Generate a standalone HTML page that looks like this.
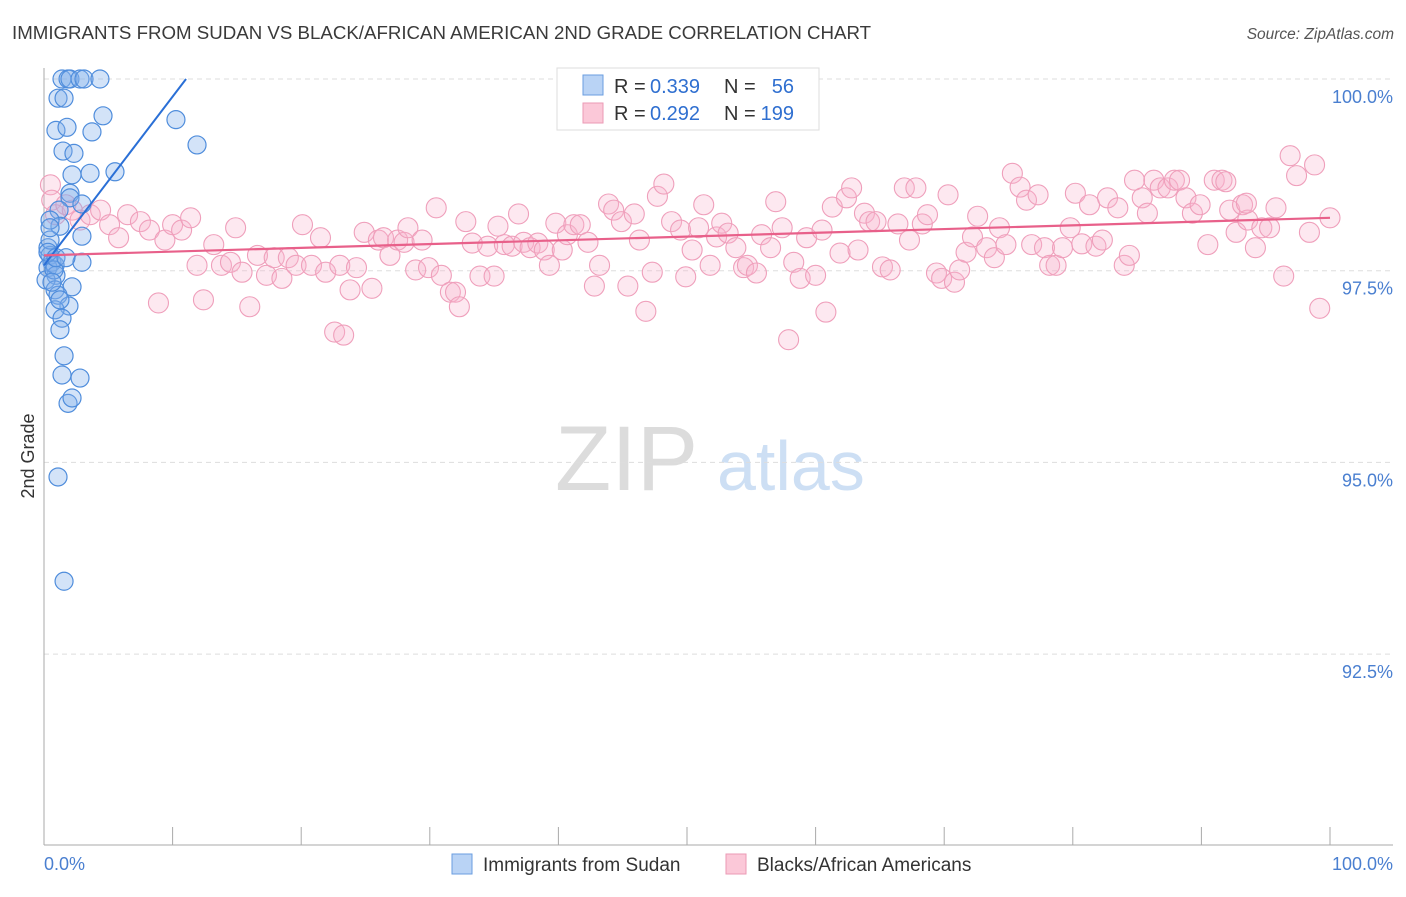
<!DOCTYPE html>
<html><head><meta charset="utf-8"><style>
body{margin:0;background:#fff;font-family:"Liberation Sans",sans-serif}
svg text{font-family:"Liberation Sans",sans-serif}
</style></head><body>
<svg id="chart" width="1406" height="892" xmlns="http://www.w3.org/2000/svg">
<text x="12" y="39" font-size="18.7" fill="#3a3a3a">IMMIGRANTS FROM SUDAN VS BLACK/AFRICAN AMERICAN 2ND GRADE CORRELATION CHART</text>
<text x="1394" y="39" font-size="15.5" fill="#555" font-style="italic" text-anchor="end">Source: ZipAtlas.com</text>
<g>
<text x="555" y="490" font-size="92" fill="#dcdcdc" font-family="Liberation Serif, serif">ZIP</text>
<text x="717" y="490" font-size="70" fill="#cddff4">atlas</text>
</g>
<g id="grid"></g>
<g id="axes"></g>
<g id="pink"></g>
<g id="blue"></g>
<g id="lines"></g>
<g font-size="20">
<rect x="557" y="68" width="262" height="62" fill="#fff" stroke="#ddd"/>
<rect x="583" y="75" width="20" height="20" fill="#b9d3f5" stroke="#6a9ee0"/>
<rect x="583" y="103" width="20" height="20" fill="#fbc8d8" stroke="#eb9ab5"/>
<text x="614" y="93" fill="#333">R =</text><text x="650" y="93" fill="#2f6fd0">0.339</text>
<text x="724" y="93" fill="#333">N =</text><text x="794" y="93" fill="#2f6fd0" text-anchor="end">56</text>
<text x="614" y="120" fill="#333">R =</text><text x="650" y="120" fill="#2f6fd0">0.292</text>
<text x="724" y="120" fill="#333">N =</text><text x="794" y="120" fill="#2f6fd0" text-anchor="end">199</text>
</g>
<text transform="translate(34,456) rotate(-90)" font-size="18" fill="#333" text-anchor="middle">2nd Grade</text>
<g>
<rect x="452" y="854" width="20" height="20" fill="#b9d3f5" stroke="#6a9ee0"/>
<text x="483" y="871" font-size="19" fill="#333">Immigrants from Sudan</text>
<rect x="726" y="854" width="20" height="20" fill="#fbc8d8" stroke="#eb9ab5"/>
<text x="757" y="871" font-size="19" fill="#333">Blacks/African Americans</text>
</g>
</svg>
<script>
const yTicks=[100,97.5,95,92.5];
const yTickLabels=["100.0%","97.5%","95.0%","92.5%"];
const xTickCount=[0,10,20,30,40,50,60,70,80,90,100];
const blueX=[1.40,1.87,2.02,2.80,3.11,4.35,1.09,1.56,4.59,0.93,1.79,3.73,1.48,2.33,2.18,3.58,5.52,10.26,11.90,2.02,2.02,1.17,2.95,1.24,0.47,2.95,2.95,0.31,0.47,0.62,0.31,0.86,0.93,0.16,0.86,2.18,1.09,1.94,0.86,1.40,1.24,1.56,1.40,2.80,1.87,2.18,1.09,1.56,0.47,0.31,0.78,0.62,1.24,0.93,1.71,0.47];
const blueY=[100,100,100,100,100,100,99.75,99.75,99.52,99.33,99.37,99.31,99.06,99.03,98.75,98.77,98.79,99.47,99.14,98.51,98.45,98.29,98.37,98.08,98.16,97.95,97.61,97.80,97.70,97.61,97.54,97.57,97.44,97.38,97.25,97.29,97.18,97.04,96.99,96.88,96.73,96.39,96.14,96.10,95.77,95.84,94.81,93.45,97.90,97.74,97.51,97.35,97.12,97.67,97.67,98.06];
const pinkX=[0.5,0.6,0.9,1.7,2.2,2.8,3.6,4.4,5.1,5.8,6.5,7.5,8.2,8.9,9.4,10.0,10.7,11.4,11.9,12.4,13.2,13.8,14.5,14.9,15.4,16.0,16.6,17.3,17.9,18.5,19.0,19.6,20.1,20.8,21.5,21.9,22.6,23.0,23.3,23.8,24.3,24.9,25.5,26.0,26.4,26.9,27.5,28.0,28.3,28.9,29.4,29.9,30.5,30.9,31.6,32.0,32.3,32.8,33.3,33.9,34.5,35.0,35.3,35.8,36.4,36.9,37.3,37.8,38.4,38.9,39.3,39.8,40.3,40.7,41.2,41.7,42.3,42.8,43.2,43.9,44.3,44.9,45.4,45.9,46.3,46.8,47.3,47.7,48.2,48.8,49.5,49.9,50.4,50.9,51.3,51.8,52.3,52.7,53.2,53.8,54.4,54.7,55.4,55.8,56.5,56.9,57.4,57.9,58.3,58.8,59.3,60.0,60.5,60.8,61.3,61.9,62.4,62.8,63.3,63.8,64.2,64.7,65.2,65.8,66.4,66.9,67.3,67.8,68.3,68.7,69.4,69.8,70.3,70.8,71.2,71.7,72.2,72.6,73.3,73.9,74.3,74.8,75.3,75.9,76.4,76.8,77.3,77.8,78.2,78.7,79.2,79.8,80.2,80.7,81.3,81.8,82.3,82.7,83.5,84.0,84.4,84.8,85.4,85.8,86.3,86.8,87.4,87.9,88.3,88.8,89.3,89.9,90.5,91.0,91.6,92.2,92.7,93.2,93.6,94.2,94.7,95.3,95.8,96.4,96.9,97.4,98.4,98.8,99.2,100,91.9,93.5];
const pinkY=[98.62,98.42,98.23,98.36,98.29,98.16,98.23,98.29,98.10,97.93,98.23,98.14,98.03,97.08,97.90,98.10,98.03,98.19,97.57,97.12,97.84,97.57,97.61,98.06,97.48,97.03,97.70,97.44,97.67,97.40,97.67,97.57,98.10,97.57,97.93,97.48,96.70,97.57,96.66,97.25,97.54,98.00,97.27,97.90,97.93,97.70,97.90,97.87,98.06,97.51,97.90,97.54,98.32,97.44,97.22,97.22,97.03,98.14,97.86,97.43,97.82,97.43,98.08,97.84,97.82,98.24,97.87,97.80,97.86,97.77,97.57,98.12,97.77,97.97,98.10,98.10,97.87,97.30,97.57,98.37,98.29,98.14,97.30,98.24,97.90,96.97,97.48,98.47,98.63,98.14,98.03,97.42,97.77,98.06,98.36,97.57,97.94,98.12,97.99,97.80,97.54,97.57,97.47,97.97,97.80,98.40,98.06,96.60,97.61,97.40,97.93,97.44,98.03,96.96,98.33,97.73,98.45,98.58,97.77,98.25,98.14,98.14,97.55,97.51,98.11,98.58,97.90,98.58,98.11,98.23,97.47,97.40,98.49,97.35,97.51,97.74,97.94,98.21,97.80,97.67,98.06,97.84,98.77,98.59,98.42,97.84,98.49,97.80,97.57,97.57,97.80,98.06,98.51,97.85,98.36,97.82,97.90,98.45,98.32,97.57,97.70,98.68,98.45,98.25,98.68,98.58,98.58,98.68,98.68,98.45,98.25,98.36,97.84,98.68,98.68,98.29,98.00,98.36,98.16,97.80,98.06,98.06,98.32,97.43,99.00,98.74,98.00,98.88,97.01,98.19,98.66,98.38];
const blueTrend=[97.57,0.22];
const pinkTrend=[97.70,0.0049];
const NS="http://www.w3.org/2000/svg";
const X=v=>44+v*12.86, Y=v=>79+(100-v)*76.68;
function mk(tag,attrs,parent){const e=document.createElementNS(NS,tag);for(const k in attrs)e.setAttribute(k,attrs[k]);document.getElementById(parent).appendChild(e);return e;}
yTicks.forEach((t,i)=>{
 const g=mk('line',{x1:44,x2:1393,y1:Y(t),y2:Y(t),stroke:'#ddd','stroke-dasharray':'5,4'},'grid');
 
 
 const l=mk('text',{x:1393,y:Y(t)+24,'font-size':18,fill:'#4a7fd0','text-anchor':'end'},'axes');
 l.textContent=yTickLabels[i];
 
 
});
mk('line',{x1:44,x2:44,y1:68,y2:845,stroke:'#aaa'},'axes');
mk('line',{x1:44,x2:1393,y1:845,y2:845,stroke:'#aaa'},'axes');
xTickCount.forEach(t=>{const e=mk('line',{x1:X(t),x2:X(t),y1:827,y2:845,stroke:'#aaa'},'axes');
 
 });
let a=mk('text',{x:44,y:870,'font-size':18,fill:'#4a7fd0'},'axes');a.textContent='0.0%';


a=mk('text',{x:1393,y:870,'font-size':18,fill:'#4a7fd0','text-anchor':'end'},'axes');a.textContent='100.0%';


pinkX.forEach((v,i)=>{const c=mk('circle',{cx:X(v),cy:Y(pinkY[i]),r:10,fill:'rgba(248,180,204,0.3)',stroke:'#ef9fbb','stroke-width':1.1},'pink');
 
 });
blueX.forEach((v,i)=>{const c=mk('circle',{cx:X(v),cy:Y(blueY[i]),r:9,fill:'rgba(130,175,235,0.35)',stroke:'#4f8ddc','stroke-width':1.2},'blue');
 
 });
const bx1=(100-blueTrend[0])/blueTrend[1];
let ln=mk('line',{x1:X(0),y1:Y(blueTrend[0]),x2:X(bx1),y2:Y(100),stroke:'#2a6fd6','stroke-width':2},'lines');


ln=mk('line',{x1:X(0),y1:Y(pinkTrend[0]),x2:X(100),y2:Y(pinkTrend[0]+pinkTrend[1]*100),stroke:'#e8608a','stroke-width':2.2},'lines');


</script>
</body></html>
